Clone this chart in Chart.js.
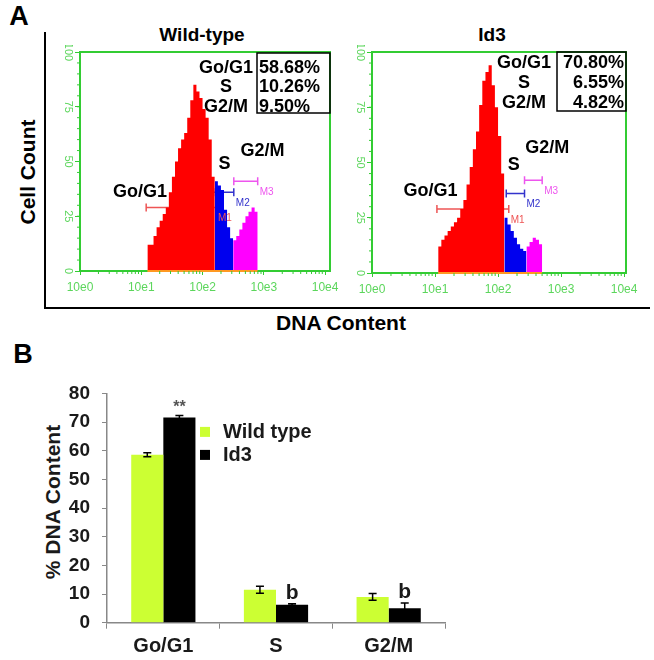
<!DOCTYPE html>
<html>
<head>
<meta charset="utf-8">
<script src="https://cdn.jsdelivr.net/npm/chart.js@4.4.0/dist/chart.umd.min.js"></script>
<style>
body { margin: 0; background: #fff; font-family: "Liberation Sans", Arial, sans-serif; }
#wrap { position: relative; width: 654px; height: 660px; overflow: hidden; }
.lbl { position: absolute; font-weight: bold; color: #000; white-space: nowrap; transform: translate(-50%, -50%); }
.rot { transform: translate(-50%, -50%) rotate(-90deg); }
canvas { position: absolute; }
</style>
</head>
<body>
<div id="wrap">
  <div class="lbl" style="left:19px;top:16px;font-size:27px">A</div>
  <div style="position:absolute;left:44px;top:32px;width:604px;height:275px;border-left:2px solid #000;border-bottom:2px solid #000"></div>
  <div class="lbl rot" style="left:28px;top:172px;font-size:21px">Cell Count</div>
  <div class="lbl" style="left:202px;top:35px;font-size:19px">Wild-type</div>
  <div class="lbl" style="left:492px;top:35px;font-size:19px">Id3</div>
  <div class="lbl" style="left:341px;top:323px;font-size:21px">DNA Content</div>
  <div class="lbl" style="left:23px;top:354px;font-size:27px">B</div>
  <div class="lbl rot" style="left:53px;top:502px;font-size:21px;color:#1a1a1a">% DNA Content</div>

  <canvas id="wtHist" width="290" height="255" style="left:50px;top:45px"></canvas>
  <canvas id="id3Hist" width="300" height="255" style="left:345px;top:45px"></canvas>
  <canvas id="barChart" width="470" height="290" style="left:0px;top:370px"></canvas>
</div>
<script>
// ---- data ----
const phases = ['Go/G1', 'S', 'G2/M'];
const BIN = 0.05; // histogram bin width in log10 units

// wild-type histogram (counts per bin, start = log10 of DNA content)
const wtG1Start = 1.10;
const wtG1 = [12, 12, 16, 20, 23, 26, 29, 36, 43, 50, 56, 60, 63, 70, 78, 85, 82, 79, 74, 70, 60, 43];
const wtSStart = 2.20;
const wtS = [41, 39, 37, 28, 20, 15];
const wtG2Start = 2.50;
const wtG2 = [14, 16, 19, 22, 25, 27, 29, 27];

// Id3 histogram
const id3G1Start = 1.05;
const id3G1 = [12, 15, 17, 19, 21, 23, 25, 29, 33, 40, 48, 56, 64, 76, 87, 91, 94, 85, 75, 62, 45];
const id3SStart = 2.10;
const id3S = [25, 22, 19, 16, 13, 11, 10];
const id3G2Start = 2.45;
const id3G2 = [12, 14, 16, 15, 13];

// gates M1..M3: [from, to, count level]
const gateNames = ['M1', 'M2', 'M3'];
const wtGates = [[1.08, 2.22, 29], [2.18, 2.51, 36], [2.51, 2.90, 41]];
const id3Gates = [[1.03, 2.17, 29], [2.13, 2.42, 36], [2.42, 2.70, 42]];

// percentages from the analysis
const wtStats = ['58.68%', '10.26%', '9.50%'];
const id3Stats = ['70.80%', '6.55%', '4.82%'];

// panel B
const seriesNames = ['Wild type', 'Id3'];
const wtPct = [58.6, 11.5, 9.0];
const wtErr = [0.7, 1.2, 1.2];
const id3Pct = [71.6, 6.3, 5.0];
const id3Err = [0.7, 0.3, 1.9];
const id3Marks = ['**', 'b', 'b'];
const barTicks = [0, 10, 20, 30, 40, 50, 60, 70, 80];

// ---- styles ----
Chart.defaults.font.family = '"Liberation Sans", Arial, sans-serif';
Chart.defaults.animation = false;
const GREEN = '#33cc33';
const GREEN_TXT = '#5cd65c';
const phaseColors = ['#ff0000', '#0000ee', '#ff00ff'];
const gateColors = ['#ee5555', '#3333cc', '#ee55ee'];
const wtColor = '#ccff33';
const id3Color = '#000000';

function steps(start, counts) {
  const pts = counts.map((c, i) => ({ x: start + i * BIN, y: c }));
  pts.push({ x: start + counts.length * BIN, y: counts[counts.length - 1] });
  return pts;
}

const histDecor = {
  id: 'histDecor',
  beforeDatasetsDraw(chart, args, o) {
    const { ctx, scales: { x, y } } = chart;
    ctx.save();
    ctx.lineWidth = 1.5;
    o.gates.forEach((g, i) => {
      const x1 = x.getPixelForValue(g[0]), x2 = x.getPixelForValue(g[1]), yy = y.getPixelForValue(g[2]);
      ctx.strokeStyle = gateColors[i];
      ctx.beginPath();
      ctx.moveTo(x1, yy); ctx.lineTo(x2, yy);
      ctx.moveTo(x1, yy - 4); ctx.lineTo(x1, yy + 4);
      ctx.moveTo(x2, yy - 4); ctx.lineTo(x2, yy + 4);
      ctx.stroke();
    });
    ctx.restore();
  },
  afterDraw(chart, args, o) {
    const { ctx, chartArea: a, scales: { x, y } } = chart;
    const ds = chart.data.datasets;
    ctx.save();
    // frame
    ctx.strokeStyle = GREEN;
    ctx.lineWidth = 2;
    ctx.strokeRect(a.left, a.top, a.right - a.left, a.bottom - a.top);
    // orange baseline under the events
    const first = ds[0].data[0].x, lastSet = ds[ds.length - 1].data;
    ctx.strokeStyle = '#ff9922';
    ctx.beginPath();
    ctx.moveTo(x.getPixelForValue(first), a.bottom);
    ctx.lineTo(x.getPixelForValue(lastSet[lastSet.length - 1].x), a.bottom);
    ctx.stroke();
    // minor ticks
    ctx.strokeStyle = GREEN;
    ctx.lineWidth = 1;
    ctx.beginPath();
    for (let d = 0; d < 4; d++) {
      for (let k = 2; k < 10; k++) {
        const px = x.getPixelForValue(d + Math.log10(k));
        ctx.moveTo(px, a.bottom); ctx.lineTo(px, a.bottom + 3);
      }
    }
    for (let v = 5; v < 100; v += 5) {
      const py = y.getPixelForValue(v);
      ctx.moveTo(a.left, py); ctx.lineTo(a.left - 3, py);
    }
    ctx.stroke();
    // rotated y labels
    ctx.fillStyle = GREEN_TXT;
    ctx.font = '11px "Liberation Sans", Arial, sans-serif';
    ctx.textAlign = 'center';
    ctx.textBaseline = 'middle';
    y.ticks.forEach(t => {
      ctx.save();
      ctx.translate(a.left - 12, y.getPixelForValue(t.value));
      ctx.rotate(Math.PI / 2);
      ctx.fillText(String(t.value), 0, 0);
      ctx.restore();
    });
    // gate labels
    ctx.font = '10px "Liberation Sans", Arial, sans-serif';
    ctx.textAlign = 'left';
    o.gates.forEach((g, i) => {
      ctx.fillStyle = gateColors[i];
      ctx.fillText(gateNames[i], x.getPixelForValue(g[1]) + 2, y.getPixelForValue(g[2]) + 11);
    });
    // phase labels on the histogram
    ctx.fillStyle = '#000';
    ctx.font = 'bold 18px "Liberation Sans", Arial, sans-serif';
    ctx.textAlign = 'center';
    phases.forEach((p, i) => {
      const pos = o.phasePos[i];
      ctx.fillText(p, x.getPixelForValue(pos[0]), y.getPixelForValue(pos[1]));
    });
    // stats box
    const b = o.box;
    const bx = a.left + b.left;
    ctx.lineWidth = 1.5;
    ctx.strokeStyle = '#000';
    ctx.strokeRect(bx, a.top + b.top, a.right - bx, b.bottom - b.top);
    phases.forEach((p, i) => {
      const ry = a.top + b.rows[i];
      ctx.textAlign = 'center';
      ctx.fillText(p, bx - b.colCenter, ry);
      if (b.alignRight) {
        ctx.textAlign = 'right';
        ctx.fillText(o.stats[i], a.right - 2, ry);
      } else {
        ctx.textAlign = 'left';
        ctx.fillText(o.stats[i], bx + 2, ry);
      }
    });
    ctx.restore();
  }
};

function makeHist(id, parts, gates, stats, layout) {
  const datasets = parts.map((p, i) => ({
    data: steps(p[0], p[1]),
    stepped: true,
    fill: 'origin',
    backgroundColor: phaseColors[i],
    borderWidth: 0,
    pointRadius: 0
  }));
  return new Chart(document.getElementById(id), {
    type: 'line',
    data: { datasets },
    options: {
      responsive: false,
      layout: { padding: { left: 0, top: 7, right: layout.padRight, bottom: 0 } },
      plugins: {
        legend: { display: false },
        tooltip: { enabled: false },
        histDecor: { gates, stats, phasePos: layout.phasePos, box: layout.box }
      },
      scales: {
        x: {
          type: 'linear', min: 0, max: layout.xMax,
          border: { color: GREEN, width: 2 },
          grid: { drawOnChartArea: false, color: GREEN, tickLength: 4 },
          ticks: {
            stepSize: 1, includeBounds: false, color: GREEN_TXT, padding: 5, maxRotation: 0,
            font: { size: 12 },
            callback: v => Number.isInteger(v) ? '10e' + v : ''
          },
          afterFit: s => { s.height = layout.xHeight; s.paddingLeft = 0; s.paddingRight = 0; }
        },
        y: {
          min: 0, max: 100,
          border: { color: GREEN, width: 2 },
          grid: { drawOnChartArea: false, color: GREEN, tickLength: 5 },
          ticks: { stepSize: 25, display: false },
          afterFit: s => { s.width = layout.yWidth; }
        }
      }
    },
    plugins: [histDecor]
  });
}

makeHist('wtHist',
  [[wtG1Start, wtG1], [wtSStart, wtS], [wtG2Start, wtG2]],
  wtGates, wtStats,
  {
    xMax: 4.08, padRight: 10, xHeight: 29, yWidth: 30,
    phasePos: [[0.98, 36], [2.36, 49], [2.98, 55]],
    box: { left: 177, top: 1, bottom: 61, rows: [16, 35, 55], colCenter: 31, alignRight: false }
  });

makeHist('id3Hist',
  [[id3G1Start, id3G1], [id3SStart, id3S], [id3G2Start, id3G2]],
  id3Gates, id3Stats,
  {
    xMax: 4.03, padRight: 19, xHeight: 27, yWidth: 27,
    phasePos: [[0.93, 37], [2.25, 49], [2.78, 56.5]],
    box: { left: 185, top: 0, bottom: 59, rows: [11, 31, 51], colCenter: 33, alignRight: true }
  });

// ---- panel B ----
const barDecor = {
  id: 'barDecor',
  afterDatasetsDraw(chart) {
    const { ctx, chartArea: a, scales: { y } } = chart;
    const errs = [wtErr, id3Err];
    ctx.save();
    ctx.strokeStyle = '#000';
    ctx.lineWidth = 1.5;
    chart.data.datasets.forEach((ds, di) => {
      chart.getDatasetMeta(di).data.forEach((bar, i) => {
        const v = ds.data[i], e = errs[di][i];
        const yt = y.getPixelForValue(v + e), yb = y.getPixelForValue(v - e);
        ctx.beginPath();
        ctx.moveTo(bar.x, yt); ctx.lineTo(bar.x, yb);
        ctx.moveTo(bar.x - 4, yt); ctx.lineTo(bar.x + 4, yt);
        ctx.moveTo(bar.x - 4, yb); ctx.lineTo(bar.x + 4, yb);
        ctx.stroke();
      });
    });
    // significance marks
    ctx.textAlign = 'center';
    chart.getDatasetMeta(1).data.forEach((bar, i) => {
      const m = id3Marks[i];
      if (!m) return;
      const yt = y.getPixelForValue(id3Pct[i] + id3Err[i]);
      if (m === '**') {
        ctx.fillStyle = '#555';
        ctx.font = 'bold 16px "Liberation Sans", Arial, sans-serif';
        ctx.textBaseline = 'middle';
        ctx.fillText(m, bar.x, yt - 8);
      } else {
        ctx.fillStyle = '#1a1a1a';
        ctx.font = 'bold 21px "Liberation Sans", Arial, sans-serif';
        ctx.textBaseline = 'alphabetic';
        ctx.fillText(m, bar.x, yt - 5);
      }
    });
    // legend
    ctx.textAlign = 'left';
    ctx.textBaseline = 'middle';
    ctx.font = 'bold 20px "Liberation Sans", Arial, sans-serif';
    chart.data.datasets.forEach((ds, di) => {
      const ly = a.top + 38.5 + di * 23;
      ctx.fillStyle = ds.backgroundColor;
      ctx.fillRect(a.left + 93, ly - 5, 10, 10);
      ctx.fillStyle = '#1a1a1a';
      ctx.fillText(ds.label, a.left + 116, ly + 1);
    });
    ctx.restore();
  }
};

new Chart(document.getElementById('barChart'), {
  type: 'bar',
  data: {
    labels: phases,
    datasets: [
      { label: seriesNames[0], data: wtPct, backgroundColor: wtColor, barPercentage: 1, categoryPercentage: 0.57 },
      { label: seriesNames[1], data: id3Pct, backgroundColor: id3Color, barPercentage: 1, categoryPercentage: 0.57 }
    ]
  },
  options: {
    responsive: false,
    layout: { padding: { left: 0, top: 12, right: 25, bottom: 0 } },
    plugins: { legend: { display: false }, tooltip: { enabled: false } },
    scales: {
      x: {
        border: { color: '#888', width: 1.5 },
        grid: { drawOnChartArea: false, color: '#888', tickLength: 6 },
        ticks: { color: '#1a1a1a', font: { size: 20, weight: 'bold' }, padding: 6 },
        afterFit: s => { s.height = 37.3; s.paddingLeft = 0; s.paddingRight = 0; }
      },
      y: {
        min: 0, max: 80,
        afterBuildTicks: s => { s.ticks = barTicks.map(v => ({ value: v })); },
        border: { color: '#888', width: 1.5 },
        grid: { drawOnChartArea: false, color: '#888', tickLength: 5 },
        ticks: { color: '#1a1a1a', font: { size: 19, weight: 'bold' }, padding: 12 },
        afterFit: s => { s.width = 107; }
      }
    }
  },
  plugins: [barDecor]
});
</script>
</body>
</html>
